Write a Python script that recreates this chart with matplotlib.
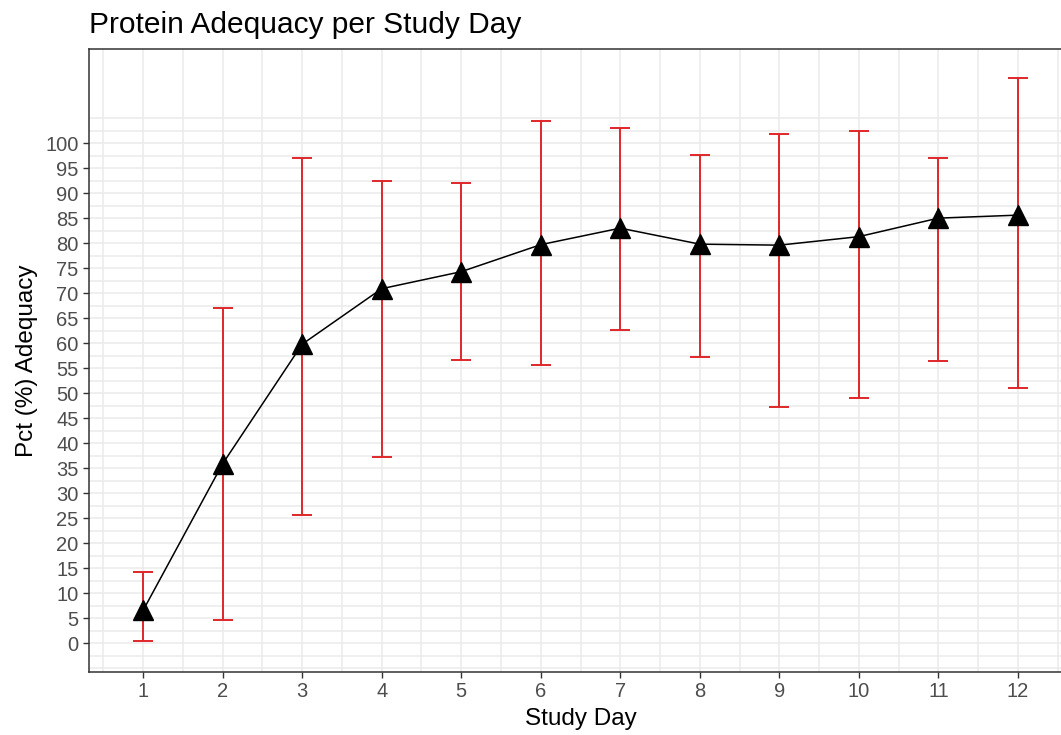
#!/usr/bin/env python

import numpy as np
import matplotlib
matplotlib.use('Agg')
import matplotlib.pyplot as plt
from matplotlib import rcParams

rcParams['font.family'] = ['Liberation Sans', 'DejaVu Sans']

# values
study_days = [1, 2, 3, 4, 5, 6, 7, 8, 9, 10, 11, 12]
mean_pct = [6.6, 35.9, 59.8, 70.9, 74.3, 79.7, 83.0, 79.8, 79.6, 81.3, 85.0, 85.6]
lower_pct = [0.4, 4.7, 25.7, 37.3, 56.6, 55.6, 62.6, 57.3, 47.3, 49.0, 56.4, 51.0]
upper_pct = [14.3, 67.0, 97.0, 92.4, 92.1, 104.4, 103.0, 97.7, 101.8, 102.5, 97.1, 113.1]
y_ticks = list(range(0, 101, 5))

GRID = '#EBEBEB'
BORDER = '#333333'
TICK_TEXT = '#4D4D4D'
ERR_RED = '#E0262A'


def plot():
    W, H = 1061, 735
    fig = plt.figure(figsize=(W / 100.0, H / 100.0), dpi=100)
    left, right, top, bottom = 89, 1072, 49, 672
    ax = fig.add_axes([left / W, 1 - bottom / H, (right - left) / W, (bottom - top) / H])

    days = np.array(study_days)
    mean = np.array(mean_pct)
    lo = np.array(lower_pct)
    hi = np.array(upper_pct)

    ax.plot(days, mean, color='black', lw=1.1, zorder=3)
    ax.errorbar(days, mean, yerr=[mean - lo, hi - mean], fmt='none',
                ecolor=ERR_RED, elinewidth=1.4, capsize=7.2, capthick=1.4,
                zorder=4)
    ax.plot(days, mean, linestyle='none', marker='^', markersize=14,
            color='black', zorder=5)

    ax.set_xlim(0.32, 12.68)
    ax.set_ylim(-5.7, 118.8)

    ax.set_xticks(study_days)
    ax.set_xticks(np.arange(0.5, 13, 1.0), minor=True)
    ax.set_yticks(y_ticks)
    minor_y = [v for v in np.arange(-5, 105.1, 2.5) if v % 5 != 0 or v < 0 or v > 100]
    ax.set_yticks(minor_y, minor=True)

    ax.grid(which='major', color=GRID, lw=1.1, zorder=0)
    ax.grid(which='minor', color=GRID, lw=1.1, zorder=0)
    ax.set_axisbelow(True)

    ax.tick_params(which='major', direction='out', length=4.5, width=1,
                   color=BORDER, labelcolor=TICK_TEXT, labelsize=14.5, pad=3)
    ax.tick_params(which='minor', length=0)

    for side in ['left', 'bottom', 'top', 'right']:
        ax.spines[side].set_color(BORDER)
        ax.spines[side].set_linewidth(1.1)

    ax.set_xlabel('Study Day', fontsize=17.5, labelpad=5)
    ax.set_ylabel('Pct (%) Adequacy', fontsize=17.5, labelpad=5)

    fig.text(left / W, 1 - 33 / H, 'Protein Adequacy per Study Day',
             fontsize=21.5, ha='left', va='baseline', color='black')

    fig.savefig('out.png', dpi=100)
    plt.close('all')


def main():
    plot()


if __name__ == '__main__':
    main()
